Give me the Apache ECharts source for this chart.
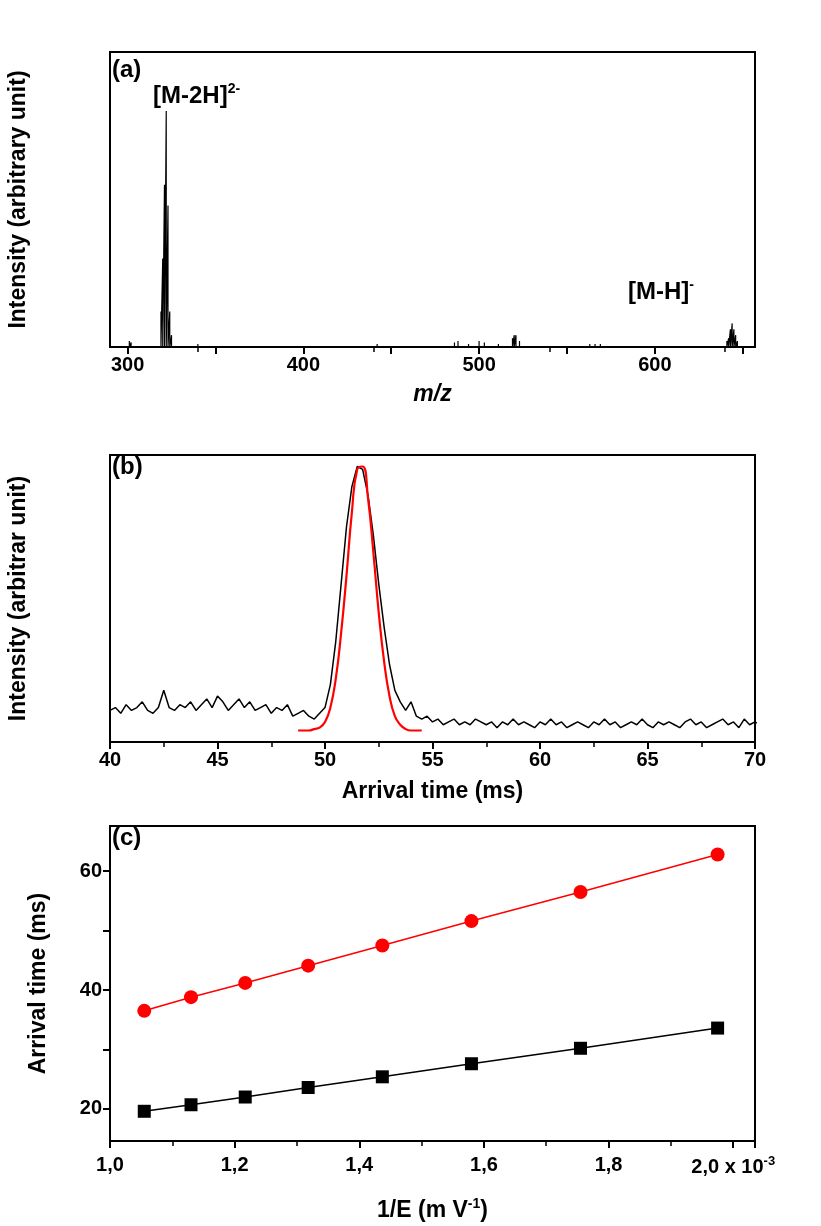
<!DOCTYPE html>
<html><head><meta charset="utf-8">
<script src="https://cdn.jsdelivr.net/npm/echarts@6/dist/echarts.min.js"></script>
<style>html,body{margin:0;background:#fff}#chart{width:821px;height:1226px}</style>
</head><body><div id="chart"></div>
<script>
// (a) mass spectrum sticks: [m/z, height]
let msPeaks = [[301,2],[302,1.5],[319,12],[320,30],[321,55],[322,80],[323,48],[324,12],[325,4],[340,1],[442,1],
  [486,1.5],[488,2],[494,1],[500,2],[503,1.5],[511,1],[519,3],[520,4],[521,4],[523,2],[563,1],[566,1],[569,1],
  [641,2],[642,3],[643,6],[644,8],[645,6],[646,4],[647,2]];

// (b) arrival time distribution, sampled every 0.25 ms from 40 ms
let atStart = 40, atStep = 0.25;
let atSignal = [11,12,10,13,11,12,14,11,10,12,18,12,11,13,12,14,11,13,15,12,16,14,11,13,15,12,14,11,12,13,10,12,11,13,9,10,
  11,9,8,10,12,20,35,55,75,89,96,95,86,72,55,40,27,18,14,11,14,9,8,9,7,
  8,6,7,8,6,7,6,8,7,6,7,5,7,6,8,6,7,6,5,7,6,8,6,7,5,6,7,6,5,7,6,8,6,7,5,6,7,6,8,6,5,7,6,7,6,5,7,8,6,7,5,6,7,8,6,7,5,8,6,7,6];
let fitStart = 48.75;
let fitSignal = [4,4,4,4.5,5,7,12,22,38,58,80,95,96,85,66,45,28,16,9,6,4.5,4,4,4];

// (c) arrival time vs 1/E (x 10^-3)
let invE = [1.055,1.13,1.217,1.318,1.437,1.58,1.755,1.975];
let tRed = [36.5,38.8,41.2,44.1,47.5,51.6,56.5,62.8];
let tBlack = [19.6,20.7,22.0,23.6,25.4,27.6,30.2,33.6];

let msLine = [];
msPeaks.forEach(p => { msLine.push([p[0],0],[p[0],p[1]],[p[0],0]); });
let atLine = atSignal.map((v,i) => [atStart + i*atStep, v]);
let fitLine = fitSignal.map((v,i) => [fitStart + i*atStep, v]);

const F = 'Liberation Sans';
const lab = {color:'#000', fontFamily:F, fontWeight:'bold', fontSize:20};
const axLine = {show:true, lineStyle:{color:'#000', width:2}};
const tick = {show:true, length:7, lineStyle:{color:'#000', width:2}};
const minor = {show:true, splitNumber:2, length:5, lineStyle:{color:'#000', width:1.5}};
const nameS = {color:'#000', fontFamily:F, fontWeight:'bold', fontSize:23};

function grid(top, h){ return {left:110, top:top, width:645, height:h, show:true, borderColor:'#000', borderWidth:2,
  containLabel:false, outerBoundsMode:'none'}; }

let chart = echarts.init(document.getElementById('chart'));
chart.setOption({
  animation:false,
  grid:[grid(52,295), grid(455,287), grid(826,315)],
  xAxis:[
    {gridIndex:0, type:'value', min:290, max:657, interval:100, axisLine:axLine, minorTick:minor,
     splitLine:{show:false}, axisLabel:Object.assign({}, lab, {customValues:[300,400,500,600]}),
     axisTick:Object.assign({}, tick, {customValues:[300,350,400,450,500,550,600,650]}),
     name:'m/z', nameLocation:'middle', nameGap:36, nameTextStyle:Object.assign({}, nameS, {fontStyle:'italic'})},
    {gridIndex:1, type:'value', min:40, max:70, interval:5, axisLine:axLine, axisTick:tick, minorTick:minor,
     splitLine:{show:false}, axisLabel:lab,
     name:'Arrival time (ms)', nameLocation:'middle', nameGap:38, nameTextStyle:nameS},
    {gridIndex:2, type:'value', min:1.0, max:2.035, interval:0.2, axisLine:axLine, axisTick:tick, minorTick:minor,
     splitLine:{show:false},
     axisLabel:Object.assign({}, lab, {margin:14, showMaxLabel:false,
       formatter: v => v > 1.99 ? '2,0 x 10{s|-3}' : v.toFixed(1).replace('.', ','),
       rich:{s:{fontFamily:F, fontWeight:'bold', fontSize:13, verticalAlign:'top', padding:[0,0,12,0]}}}),
     name:'1/E (m V{s|-1})', nameLocation:'middle', nameGap:56,
     nameTextStyle:Object.assign({}, nameS, {rich:{s:{fontFamily:F, fontWeight:'bold', fontSize:14, padding:[0,0,14,0]}}})}
  ],
  yAxis:[
    {gridIndex:0, type:'value', min:0, max:100, axisLine:axLine, axisTick:{show:false}, axisLabel:{show:false}, splitLine:{show:false},
     name:'Intensity (arbitrary unit)', nameLocation:'middle', nameGap:80, nameTextStyle:nameS},
    {gridIndex:1, type:'value', min:0, max:100, axisLine:axLine, axisTick:{show:false}, axisLabel:{show:false}, splitLine:{show:false},
     name:'Intensity (arbitrar unit)', nameLocation:'middle', nameGap:80, nameTextStyle:nameS},
    {gridIndex:2, type:'value', min:14.6, max:67.6, interval:20, axisLine:axLine, minorTick:{show:false}, splitLine:{show:false},
     axisLabel:Object.assign({}, lab, {customValues:[20,40,60]}), axisTick:Object.assign({}, tick, {customValues:[20,30,40,50,60]}),
     name:'Arrival time (ms)', nameLocation:'middle', nameGap:60, nameTextStyle:nameS}
  ],
  series:[
    {type:'line', xAxisIndex:0, yAxisIndex:0, data:msLine, showSymbol:false, lineStyle:{color:'#000', width:1.2}},
    {type:'line', xAxisIndex:1, yAxisIndex:1, data:atLine, showSymbol:false, lineStyle:{color:'#000', width:1.5}},
    {type:'line', xAxisIndex:1, yAxisIndex:1, data:fitLine, showSymbol:false, smooth:true, lineStyle:{color:'#ff0000', width:2.2}},
    {type:'line', xAxisIndex:2, yAxisIndex:2, data:invE.map((x,i)=>[x,tRed[i]]), symbol:'circle', symbolSize:14,
     itemStyle:{color:'#ff0000'}, lineStyle:{color:'#ff0000', width:1.5}},
    {type:'line', xAxisIndex:2, yAxisIndex:2, data:invE.map((x,i)=>[x,tBlack[i]]), symbol:'rect', symbolSize:13,
     itemStyle:{color:'#000'}, lineStyle:{color:'#000', width:1.5}}
  ],
  graphic:[
    {type:'text', left:112, top:58, style:{text:'(a)', font:'bold 24px '+F, fill:'#000'}},
    {type:'text', left:153, top:82, style:{text:'[M-2H]{s|2-}', font:'bold 24px '+F, fill:'#000',
      rich:{s:{font:'bold 14px '+F, verticalAlign:'top', padding:[0,0,14,0]}}}},
    {type:'text', left:628, top:278, style:{text:'[M-H]{s|-}', font:'bold 24px '+F, fill:'#000',
      rich:{s:{font:'bold 14px '+F, verticalAlign:'top', padding:[0,0,14,0]}}}},
    {type:'text', left:112, top:455, style:{text:'(b)', font:'bold 24px '+F, fill:'#000'}},
    {type:'text', left:112, top:826, style:{text:'(c)', font:'bold 24px '+F, fill:'#000'}}
  ]
});
</script></body></html>
